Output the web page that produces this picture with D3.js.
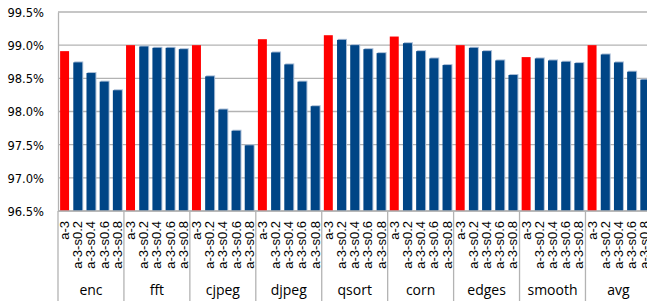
<!DOCTYPE html>
<html>
<head>
<meta charset="utf-8">
<script src="https://cdn.jsdelivr.net/npm/d3@7"></script>
<style>
  body { margin: 0; background: #fff; }
  .ytick { font-family: "Liberation Sans Narrow", "DejaVu Sans Condensed", sans-serif; font-size: 12.8px; fill: #000; }
  .xlab { font-family: "Liberation Sans Narrow", "Liberation Sans", sans-serif; font-size: 13px; fill: #000; }
  .glab { font-family: "Open Sans", "Liberation Sans", sans-serif; font-size: 14px; fill: #000; }
</style>
</head>
<body>
<div class="chart"></div>
<script>
// benchmarks along the x axis
var groups = ["enc", "fft", "cjpeg", "djpeg", "qsort", "corn", "edges", "smooth", "avg"];
// configurations inside each benchmark
var series = ["a-3", "a-3-s0.2", "a-3-s0.4", "a-3-s0.6", "a-3-s0.8"];
// accuracy (%) per configuration, one value per benchmark
var a3     = [98.91, 99.00, 99.00, 99.09, 99.15, 99.13, 99.00, 98.82, 99.00];
var a3s02  = [98.74, 98.98, 98.53, 98.89, 99.08, 99.03, 98.96, 98.80, 98.86];
var a3s04  = [98.58, 98.96, 98.03, 98.71, 99.00, 98.91, 98.91, 98.77, 98.74];
var a3s06  = [98.45, 98.96, 97.71, 98.45, 98.94, 98.80, 98.77, 98.75, 98.60];
var a3s08  = [98.32, 98.94, 97.49, 98.08, 98.88, 98.70, 98.55, 98.73, 98.48];
var yTicks = [96.5, 97.0, 97.5, 98.0, 98.5, 99.0, 99.5];

var values = [a3, a3s02, a3s04, a3s06, a3s08];

var width = 647, height = 301;
var margin = {top: 12, left: 58, bottom: 90};
var plotRight = 651.4;
var plotBottom = height - margin.bottom; // 211

var colA = "#ff0000", colS = "#004586", grid = "#b3b3b3";

var svg = d3.select("div.chart").append("svg")
    .attr("width", width)
    .attr("height", height);

var x0 = d3.scaleBand()
    .domain(groups)
    .range([margin.left, plotRight])
    .padding(0);
var x1 = d3.scaleBand()
    .domain(series)
    .range([0, x0.bandwidth()])
    .paddingInner(0.32)
    .paddingOuter(0.16);
var y = d3.scaleLinear()
    .domain([96.5, 99.5])
    .range([plotBottom, margin.top]);

// gridlines
svg.append("g").selectAll("line")
    .data(yTicks)
  .enter().append("line")
    .attr("x1", margin.left).attr("x2", plotRight)
    .attr("y1", (d) => y(d)).attr("y2", (d) => y(d))
    .style("stroke", grid).style("stroke-width", 1.3);

// y axis
var yAxis = d3.axisLeft(y)
    .tickValues(yTicks)
    .tickSize(0)
    .tickPadding(14)
    .tickFormat((d) => d3.format(".1f")(d) + "%");
var ya = svg.append("g")
    .attr("transform", "translate(" + margin.left + ",0)")
    .call(yAxis);
ya.attr("font-family", null).attr("font-size", null);
ya.select(".domain").style("stroke", grid).style("stroke-width", 1.3);
ya.selectAll("text").attr("class", "ytick").attr("dy", "0.35em");

// bars
var cells = [];
groups.forEach(function(g, gi) {
  series.forEach(function(s, si) {
    cells.push({group: g, serie: s, value: values[si][gi], first: si === 0});
  });
});

svg.append("g").selectAll("rect")
    .data(cells.filter((d) => !d.first))
  .enter().append("rect")
    .attr("x", (d) => x0(d.group) + x1(d.serie) + 1)
    .attr("y", (d) => y(d.value) - 1)
    .attr("width", x1.bandwidth())
    .attr("height", (d) => y(96.5) - y(d.value) + 1)
    .style("fill", "#a9bdd6");

svg.append("g").selectAll("rect")
    .data(cells)
  .enter().append("rect")
    .attr("x", (d) => x0(d.group) + x1(d.serie))
    .attr("y", (d) => y(d.value))
    .attr("width", x1.bandwidth())
    .attr("height", (d) => y(96.5) - y(d.value))
    .style("fill", (d) => d.first ? colA : colS);

// x axis line and group separators
svg.append("line")
    .attr("x1", margin.left).attr("x2", plotRight)
    .attr("y1", plotBottom).attr("y2", plotBottom)
    .style("stroke", grid).style("stroke-width", 1.3);
svg.append("g").selectAll("line")
    .data(groups.concat(["end"]))
  .enter().append("line")
    .attr("x1", (d, i) => margin.left + i * x0.step())
    .attr("x2", (d, i) => margin.left + i * x0.step())
    .attr("y1", plotBottom).attr("y2", height)
    .style("stroke", grid).style("stroke-width", 1.3);

// rotated configuration labels
svg.append("g").selectAll("text")
    .data(cells)
  .enter().append("text")
    .attr("class", "xlab")
    .attr("transform", (d) => "translate(" + (x0(d.group) + x1(d.serie) + x1.bandwidth() / 2 + 4.5) + "," + (plotBottom + 10) + ") rotate(-90)")
    .style("text-anchor", "end")
    .text((d) => d.serie);

// group labels
svg.append("g").selectAll("text")
    .data(groups)
  .enter().append("text")
    .attr("class", "glab")
    .attr("x", (d) => x0(d) + x0.bandwidth() / 2)
    .attr("y", 295)
    .style("text-anchor", "middle")
    .text((d) => d);
</script>
</body>
</html>
